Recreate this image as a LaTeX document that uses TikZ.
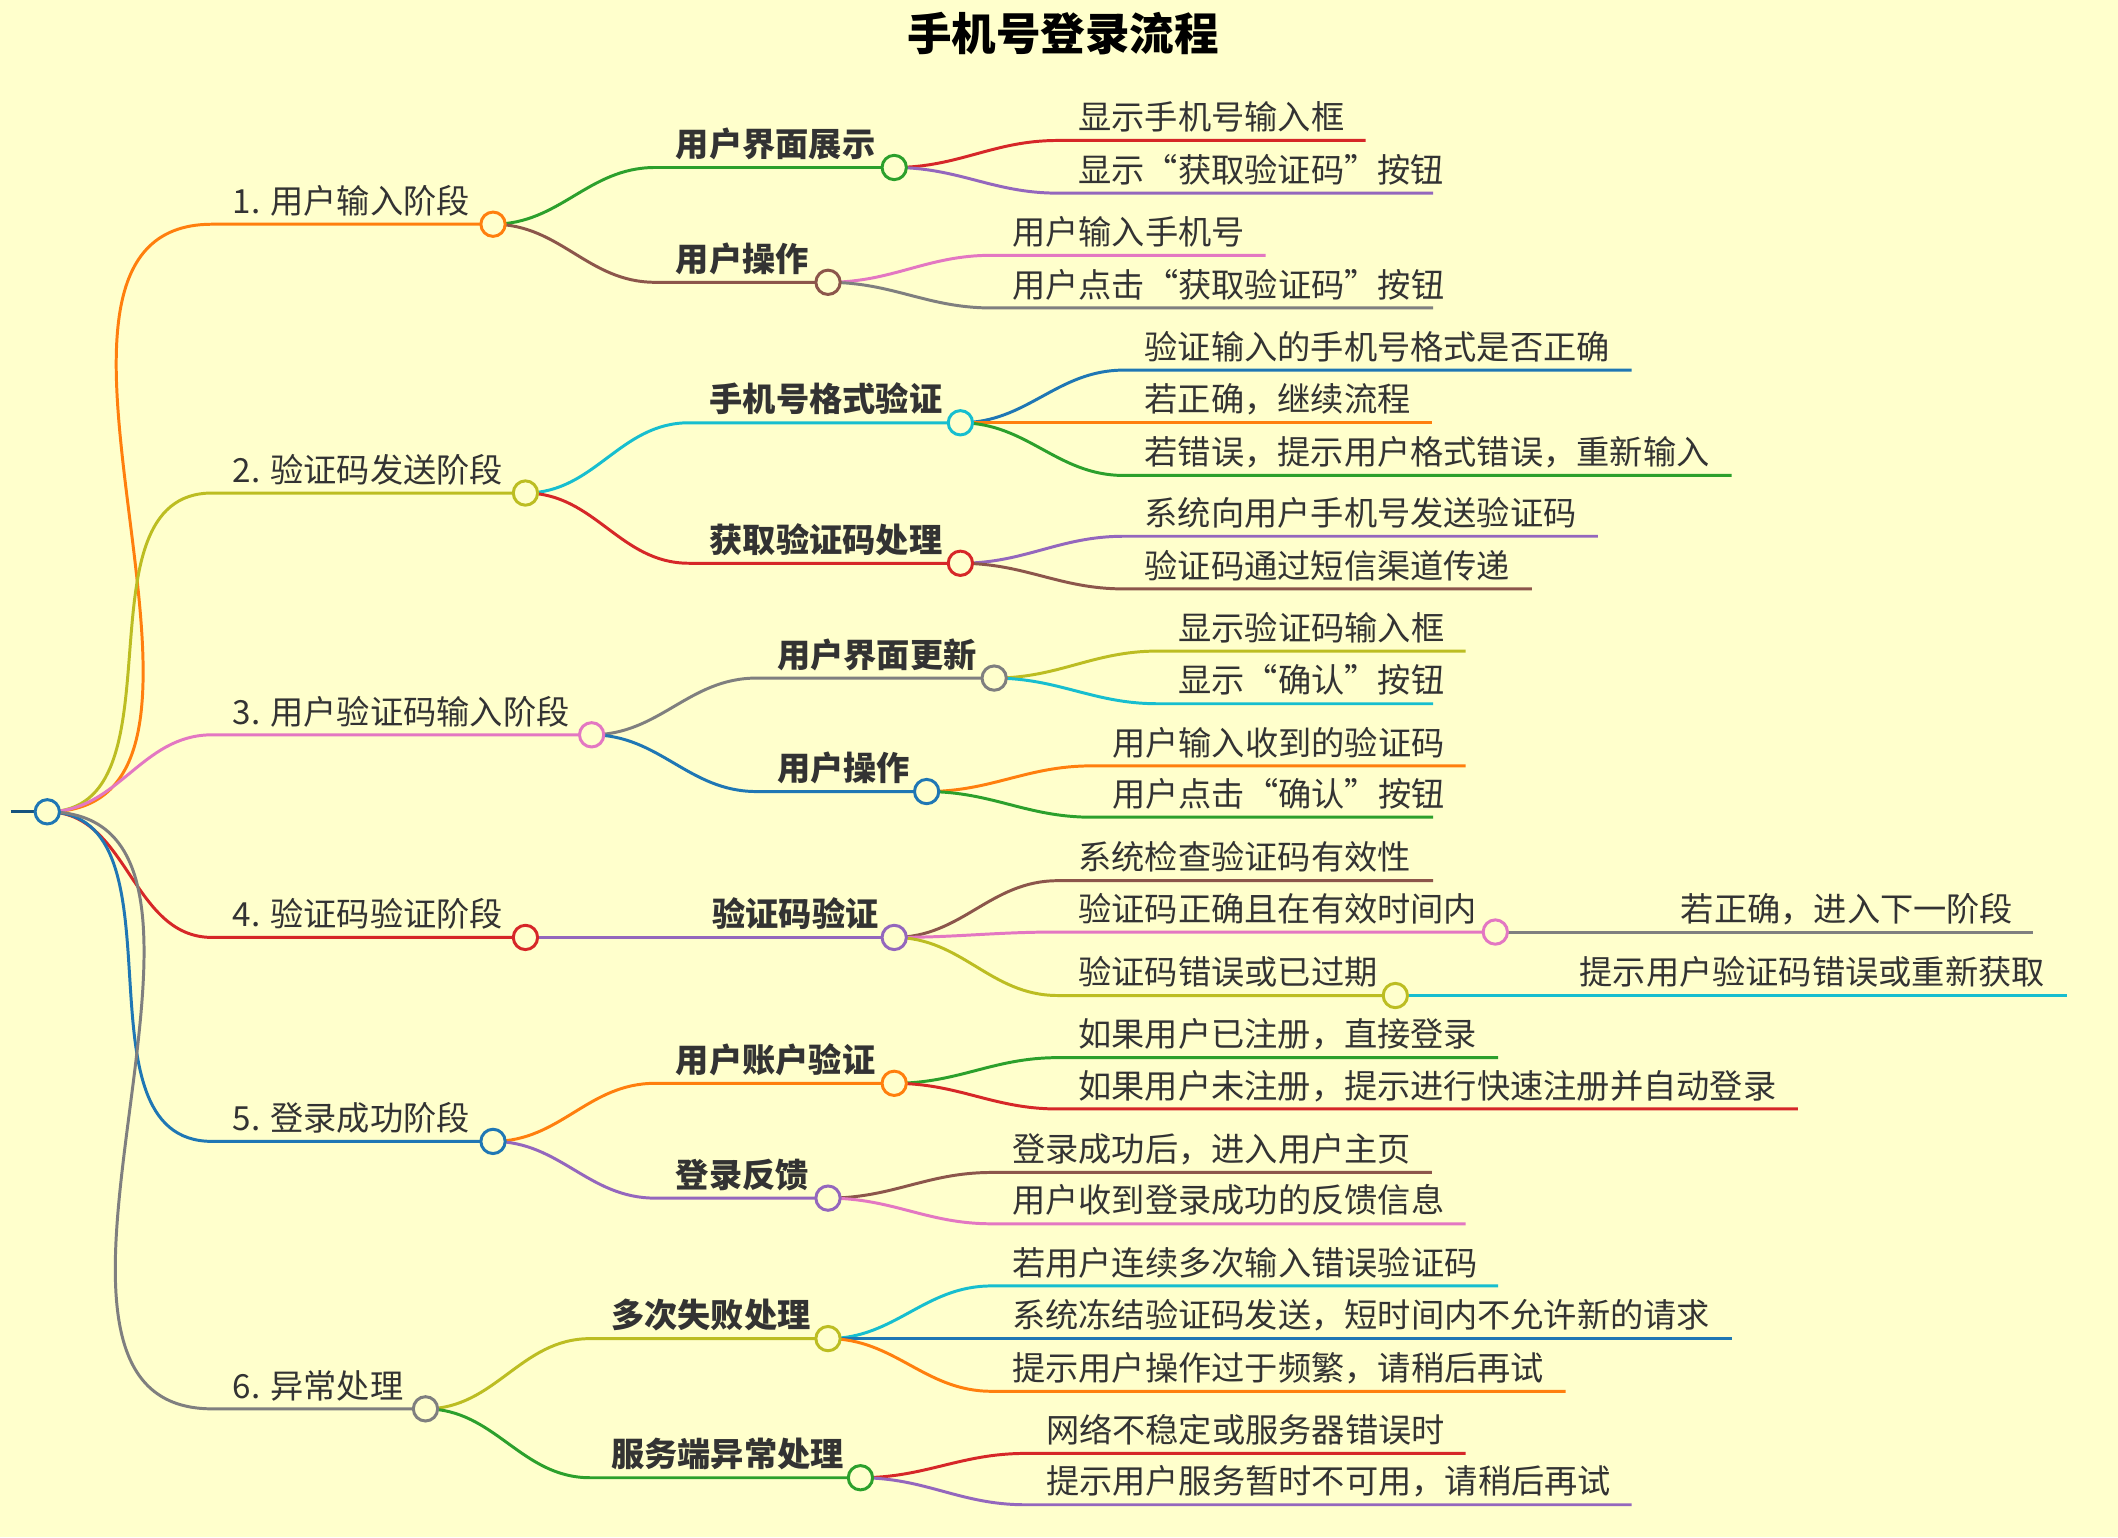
\documentclass[tikz,border=0pt]{standalone}
\usepackage{fontspec}
\setmainfont{Noto Sans CJK SC}
\definecolor{bg}{HTML}{FFFFCC}
\definecolor{cO}{HTML}{FF7F0E}\definecolor{cG}{HTML}{2CA02C}\definecolor{cR}{HTML}{D62728}
\definecolor{cP}{HTML}{9467BD}\definecolor{cB}{HTML}{8C564B}\definecolor{cK}{HTML}{E377C2}
\definecolor{cY}{HTML}{7F7F7F}\definecolor{cV}{HTML}{BCBD22}\definecolor{cC}{HTML}{17BECF}
\definecolor{cU}{HTML}{1F77B4}\definecolor{tx}{HTML}{333333}
\tikzset{conn/.style={line width=1.1pt},
 lv1/.style={font=\fontsize{12.3}{14}\selectfont,text=tx,inner sep=0pt},
 lv2/.style={font=\fontsize{12.3}{14}\selectfont\bfseries,text=tx,inner sep=0pt},
 lf/.style={font=\fontsize{12.3}{14}\selectfont,text=tx,inner sep=0pt},
 dot/.style={circle,draw=#1,fill=bg,line width=1.1pt,minimum size=9pt,inner sep=0pt}}
\newcommand\mm[8]{%
 \coordinate (#1-s) at ({#3-15},#5); \coordinate (#1-e) at (#4,#5);
 \draw[#6,conn] (#2-e) to[out=0,in=180] (#1-s) -- (#1-e);
 \node[#8,anchor=base west] (#1) at (#3,{#5-8}) {#7};}
\begin{document}
\begin{tikzpicture}[x=0.5pt,y=-0.5pt]
\fill[bg] (0,0) rectangle (1568,1138);
\useasboundingbox (0,0) rectangle (1568,1138);
\node[font=\fontsize{16.5}{18}\selectfont\bfseries,text=black] (title) at (787,25) {手机号登录流程};
\coordinate (root-s) at (8,601); \coordinate (root-e) at (35,601);
\draw[cU!70!black,conn] (root-s) -- (root-e);
% level 1
\mm{a}{root}{172}{365}{166}{cO}{1. 用户输入阶段}{lv1}
\mm{b}{root}{172}{389}{365}{cV}{2. 验证码发送阶段}{lv1}
\mm{c}{root}{172}{438}{544}{cK}{3. 用户验证码输入阶段}{lv1}
\mm{d}{root}{172}{389}{694}{cR}{4. 验证码验证阶段}{lv1}
\mm{e}{root}{172}{365}{845}{cU}{5. 登录成功阶段}{lv1}
\mm{f}{root}{172}{315}{1043}{cY}{6. 异常处理}{lv1}
% level 2
\mm{a1}{a}{500}{662}{124}{cG}{用户界面展示}{lv2}
\mm{a2}{a}{500}{613}{209}{cB}{用户操作}{lv2}
\mm{b1}{b}{525}{711}{313}{cC}{手机号格式验证}{lv2}
\mm{b2}{b}{525}{711}{417}{cR}{获取验证码处理}{lv2}
\mm{c1}{c}{575}{736}{502}{cY}{用户界面更新}{lv2}
\mm{c2}{c}{575}{686}{586}{cU}{用户操作}{lv2}
\mm{d1}{d}{527}{662}{694}{cP}{验证码验证}{lv2}
\mm{e1}{e}{500}{662}{802}{cO}{用户账户验证}{lv2}
\mm{e2}{e}{500}{613}{887}{cP}{登录反馈}{lv2}
\mm{f1}{f}{452}{613}{991}{cV}{多次失败处理}{lv2}
\mm{f2}{f}{452}{637}{1094}{cG}{服务端异常处理}{lv2}
% leaves
\mm{a11}{a1}{798}{1011}{104}{cR}{显示手机号输入框}{lf}
\mm{a12}{a1}{798}{1061}{143}{cP}{显示“获取验证码”按钮}{lf}
\mm{a21}{a2}{749}{937}{189}{cK}{用户输入手机号}{lf}
\mm{a22}{a2}{749}{1061}{228}{cY}{用户点击“获取验证码”按钮}{lf}
\mm{b11}{b1}{847}{1208}{274}{cU}{验证输入的手机号格式是否正确}{lf}
\mm{b12}{b1}{847}{1060}{313}{cO}{若正确，继续流程}{lf}
\mm{b13}{b1}{847}{1282}{352}{cG}{若错误，提示用户格式错误，重新输入}{lf}
\mm{b21}{b2}{847}{1183}{397}{cP}{系统向用户手机号发送验证码}{lf}
\mm{b22}{b2}{847}{1134}{436}{cB}{验证码通过短信渠道传递}{lf}
\mm{c11}{c1}{872}{1085}{482}{cV}{显示验证码输入框}{lf}
\mm{c12}{c1}{872}{1061}{521}{cC}{显示“确认”按钮}{lf}
\mm{c21}{c2}{823}{1085}{567}{cO}{用户输入收到的验证码}{lf}
\mm{c22}{c2}{823}{1061}{605}{cG}{用户点击“确认”按钮}{lf}
\mm{d11}{d1}{798}{1061}{652}{cB}{系统检查验证码有效性}{lf}
\mm{d12}{d1}{798}{1107}{690}{cK}{验证码正确且在有效时间内}{lf}
\mm{d13}{d1}{798}{1033}{737}{cV}{验证码错误或已过期}{lf}
\mm{d121}{d12}{1244}{1505}{690}{cY}{若正确，进入下一阶段}{lf}
\mm{d131}{d13}{1169}{1530}{737}{cC}{提示用户验证码错误或重新获取}{lf}
\mm{e11}{e1}{798}{1109}{783}{cG}{如果用户已注册，直接登录}{lf}
\mm{e12}{e1}{798}{1331}{821}{cR}{如果用户未注册，提示进行快速注册并自动登录}{lf}
\mm{e21}{e2}{749}{1060}{868}{cB}{登录成功后，进入用户主页}{lf}
\mm{e22}{e2}{749}{1085}{906}{cK}{用户收到登录成功的反馈信息}{lf}
\mm{f11}{f1}{749}{1109}{952}{cC}{若用户连续多次输入错误验证码}{lf}
\mm{f12}{f1}{749}{1282}{991}{cU}{系统冻结验证码发送，短时间内不允许新的请求}{lf}
\mm{f13}{f1}{749}{1159}{1030}{cO}{提示用户操作过于频繁，请稍后再试}{lf}
\mm{f21}{f2}{774}{1085}{1076}{cR}{网络不稳定或服务器错误时}{lf}
\mm{f22}{f2}{774}{1208}{1114}{cP}{提示用户服务暂时不可用，请稍后再试}{lf}
% circles
\node[dot=cU] (o-root) at (root-e) {};
\node[dot=cO] (o-a) at (a-e) {};
\node[dot=cV] (o-b) at (b-e) {};
\node[dot=cK] (o-c) at (c-e) {};
\node[dot=cR] (o-d) at (d-e) {};
\node[dot=cU] (o-e) at (e-e) {};
\node[dot=cY] (o-f) at (f-e) {};
\node[dot=cG] (o-a1) at (a1-e) {};
\node[dot=cB] (o-a2) at (a2-e) {};
\node[dot=cC] (o-b1) at (b1-e) {};
\node[dot=cR] (o-b2) at (b2-e) {};
\node[dot=cY] (o-c1) at (c1-e) {};
\node[dot=cU] (o-c2) at (c2-e) {};
\node[dot=cP] (o-d1) at (d1-e) {};
\node[dot=cO] (o-e1) at (e1-e) {};
\node[dot=cP] (o-e2) at (e2-e) {};
\node[dot=cV] (o-f1) at (f1-e) {};
\node[dot=cG] (o-f2) at (f2-e) {};
\node[dot=cK] (o-d12) at (d12-e) {};
\node[dot=cV] (o-d13) at (d13-e) {};
\end{tikzpicture}
\end{document}
